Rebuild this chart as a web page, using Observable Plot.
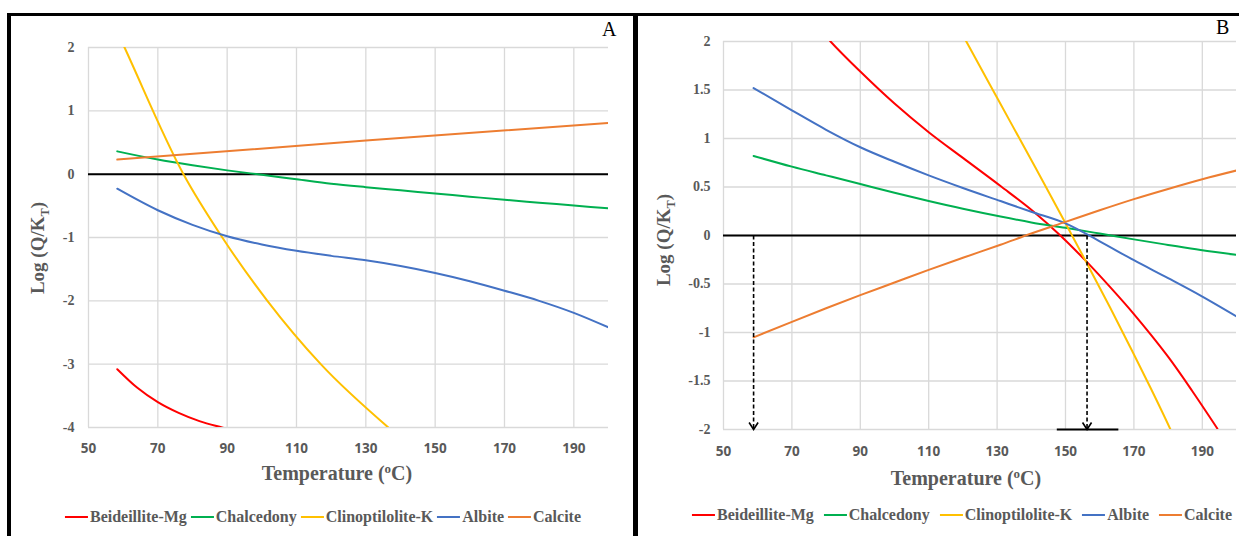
<!DOCTYPE html>
<html><head><meta charset="utf-8">
<script src="https://cdn.jsdelivr.net/npm/d3@7"></script>
<script src="https://cdn.jsdelivr.net/npm/@observablehq/plot@0.6"></script>
<style>
body{margin:0;background:#fff;}
#wrap{position:relative;width:1239px;height:536px;overflow:hidden;font-family:"Liberation Serif","Times New Roman",serif;}
.abs{position:absolute;}
.bar{position:absolute;background:#000;}
.xt{position:absolute;font-weight:bold;font-size:20px;color:#595959;white-space:nowrap;transform:translate(-50%,-50%);}
.yt{position:absolute;font-weight:bold;font-size:19px;color:#595959;white-space:nowrap;transform:translate(-50%,-50%) rotate(-90deg);}
.lbl{position:absolute;font-size:20px;color:#000;}
.leg{position:absolute;display:flex;align-items:center;transform:translate(-50%,-50%);white-space:nowrap;font-weight:bold;font-size:16px;color:#595959;}
.leg .it{display:flex;align-items:center;}
.leg .sw{width:23px;height:2px;margin-right:2px;}
sub,sup{font-size:65%;}
</style></head>
<body><div id="wrap"></div>
<script>
// ---------- data ----------
const seriesNames = ["Beideillite-Mg","Chalcedony","Clinoptilolite-K","Albite","Calcite"];
const seriesColors = ["#FF0000","#00B050","#FFC000","#4472C4","#ED7D31"];
const xTicks = [50,70,90,110,130,150,170,190];
const yTicksA = [2,1,0,-1,-2,-3,-4];
const yTicksB = [2,1.5,1,0.5,0,-0.5,-1,-1.5,-2];

// Panel A
const beidA_T = [58.3,64,70,76,82,88.5,92];
const beidA_V = [-3.08,-3.37,-3.6,-3.77,-3.9,-4.0,-4.05];
const chalA_T = [58.3,70,80,90,100,110,120,130,140,150,160,170,180,190,200];
const chalA_V = [0.36,0.23,0.14,0.06,-0.01,-0.08,-0.15,-0.205,-0.255,-0.305,-0.355,-0.405,-0.45,-0.495,-0.54];
const clinA_T = [58.3,60.4,77.4,88.6,101.6,117,136.5];
const clinA_V = [2.25,2,0,-1,-2,-3,-4];
const albiA_T = [58.3,70,80,90,100,110,120,130,140,150,160,170,180,190,200];
const albiA_V = [-0.23,-0.57,-0.80,-0.98,-1.11,-1.21,-1.29,-1.36,-1.45,-1.56,-1.69,-1.84,-2.0,-2.19,-2.42];
const calcA_T = [58.3,130,200];
const calcA_V = [0.23,0.53,0.81];

// Panel B
const beidB_T = [78,81.3,90,100,110,120,131,140.7,148.5,156.3,163,170,175,180.2,187,194.4];
const beidB_V = [2.13,2,1.69,1.36,1.065,0.80,0.51,0.245,0,-0.275,-0.53,-0.81,-1.025,-1.26,-1.6,-1.99];
const chalB_T = [58.8,70,80,90,100,110,120,131,140,150,160,170,180,189.5,200];
const chalB_V = [0.82,0.71,0.62,0.53,0.44,0.355,0.275,0.195,0.135,0.079,0.02,-0.04,-0.097,-0.15,-0.2];
const clinB_T = [119,121,130,141.2,149.5,156.3,163,169.5,175,180.7,182];
const clinB_V = [2.13,2,1.42,0.70,0.16,-0.29,-0.74,-1.19,-1.58,-2.0,-2.1];
const albiB_T = [58.8,70,80,90,100,110,120,131,140,150,160,170,180,189.5,200];
const albiB_V = [1.52,1.29,1.09,0.91,0.76,0.62,0.49,0.355,0.245,0.125,-0.06,-0.255,-0.44,-0.62,-0.835];
const calcB_T = [58.8,70,80,90,100,110,120,131,140,150,160,170,180,190,200];
const calcB_V = [-1.05,-0.89,-0.75,-0.615,-0.485,-0.355,-0.23,-0.095,0.02,0.14,0.26,0.375,0.48,0.58,0.67];

const arrowT = [58.8,156.3];   // dashed arrows from 0 down to -2
const rangeT = [147.6,165.6];  // bar on the axis in panel B

// ---------- helpers ----------
const rows = (xs, ys) => xs.map((x,i)=>({x, y: ys[i]}));
const wrap = document.getElementById("wrap");
function add(html, cls, style){ const d=document.createElement("div"); d.className=cls; d.innerHTML=html; Object.assign(d.style, style); wrap.appendChild(d); return d; }

const vHead = {draw(ctx){ ctx.moveTo(-4.5,-7); ctx.lineTo(0,0); ctx.lineTo(4.5,-7); }};

function panel({series, yTicks, yDomain, width, height, left, mL, mR, mT, mB, xPad, yPad, extra=[]}){
  const marks = [
    Plot.gridX(xTicks, {stroke:"#d9d9d9", strokeOpacity:1, strokeWidth:1.3}),
    Plot.gridY(yTicks, {stroke:"#d9d9d9", strokeOpacity:1, strokeWidth:1.3}),
    Plot.ruleY([0], {stroke:"#000", strokeWidth:2}),
    ...series.map((s,i)=>Plot.line(s, {x:"x", y:"y", stroke:seriesColors[i], strokeWidth:2, curve:"monotone-x", clip:true})),
    ...extra,
    Plot.axisX(xTicks, {tickSize:0, tickPadding:xPad, fontSize:13.5, fontWeight:"bold", fill:"#595959", fontFamily:"'Open Sans', sans-serif", label:null}),
    Plot.axisY(yTicks, {tickSize:0, tickPadding:yPad, fontSize:14, fontWeight:"bold", fill:"#595959", fontFamily:"'Liberation Serif', serif", label:null, tickFormat:d=>String(d)})
  ];
  const svg = Plot.plot({
    width, height, marginLeft:mL, marginRight:mR, marginTop:mT, marginBottom:mB,
    x:{domain:[50,200], label:null},
    y:{domain:yDomain, label:null},
    style:{background:"transparent", maxWidth:"none", overflow:"visible"},
    marks
  });
  const holder = document.createElement("div");
  holder.className="abs"; holder.style.left=left+"px"; holder.style.top="0px";
  holder.appendChild(svg); wrap.appendChild(holder);
}

const seriesA = [rows(beidA_T,beidA_V), rows(chalA_T,chalA_V), rows(clinA_T,clinA_V), rows(albiA_T,albiA_V), rows(calcA_T,calcA_V)];
const seriesB = [rows(beidB_T,beidB_V), rows(chalB_T,chalB_V), rows(clinB_T,clinB_V), rows(albiB_T,albiB_V), rows(calcB_T,calcB_V)];

panel({series:seriesA, yTicks:yTicksA, yDomain:[-4,2], width:632, height:500, left:0, mL:88, mR:24, mT:47, mB:73, xPad:16, yPad:14});
panel({series:seriesB, yTicks:yTicksB, yDomain:[-2,2], width:600, height:500, left:639, mL:84, mR:3, mT:41, mB:71, xPad:17, yPad:13,
  extra:[
    Plot.link(arrowT, {x1:d=>d, x2:d=>d, y1:0, y2:-2, stroke:"#000", strokeWidth:1.6, strokeDasharray:"4,2.5"}),
    Plot.dot(arrowT, {x:d=>d, y:-2, symbol:vHead, fill:"none", stroke:"#000", strokeWidth:1.6}),
    Plot.ruleY([-2], {x1:rangeT[0], x2:rangeT[1], stroke:"#000", strokeWidth:2})
  ]});

// borders
add("", "bar", {left:"7px", top:"13px", width:"1232px", height:"3px"});
add("", "bar", {left:"7px", top:"13px", width:"4px", height:"523px"});
add("", "bar", {left:"633px", top:"13px", width:"5px", height:"523px"});

// titles
add("Temperature (<sup>o</sup>C)", "xt", {left:"337px", top:"473px"});
add("Temperature (<sup>o</sup>C)", "xt", {left:"966px", top:"478px"});
add("Log (Q/K<sub>T</sub>)", "yt", {left:"40px", top:"248px"});
add("Log (Q/K<sub>T</sub>)", "yt", {left:"666px", top:"240px"});
add("A", "lbl", {left:"602px", top:"18px"});
add("B", "lbl", {left:"1216px", top:"16px"});

// legends
function legend(cx, cy, gap){
  const html = seriesNames.map((n,i)=>`<span class="it" style="margin-right:${i<seriesNames.length-1?gap:0}px"><span class="sw" style="background:${seriesColors[i]}"></span>${n}</span>`).join("");
  add(html, "leg", {left:cx+"px", top:cy+"px"});
}
legend(323, 517, 4);
legend(962, 515, 10);
</script></body></html>
